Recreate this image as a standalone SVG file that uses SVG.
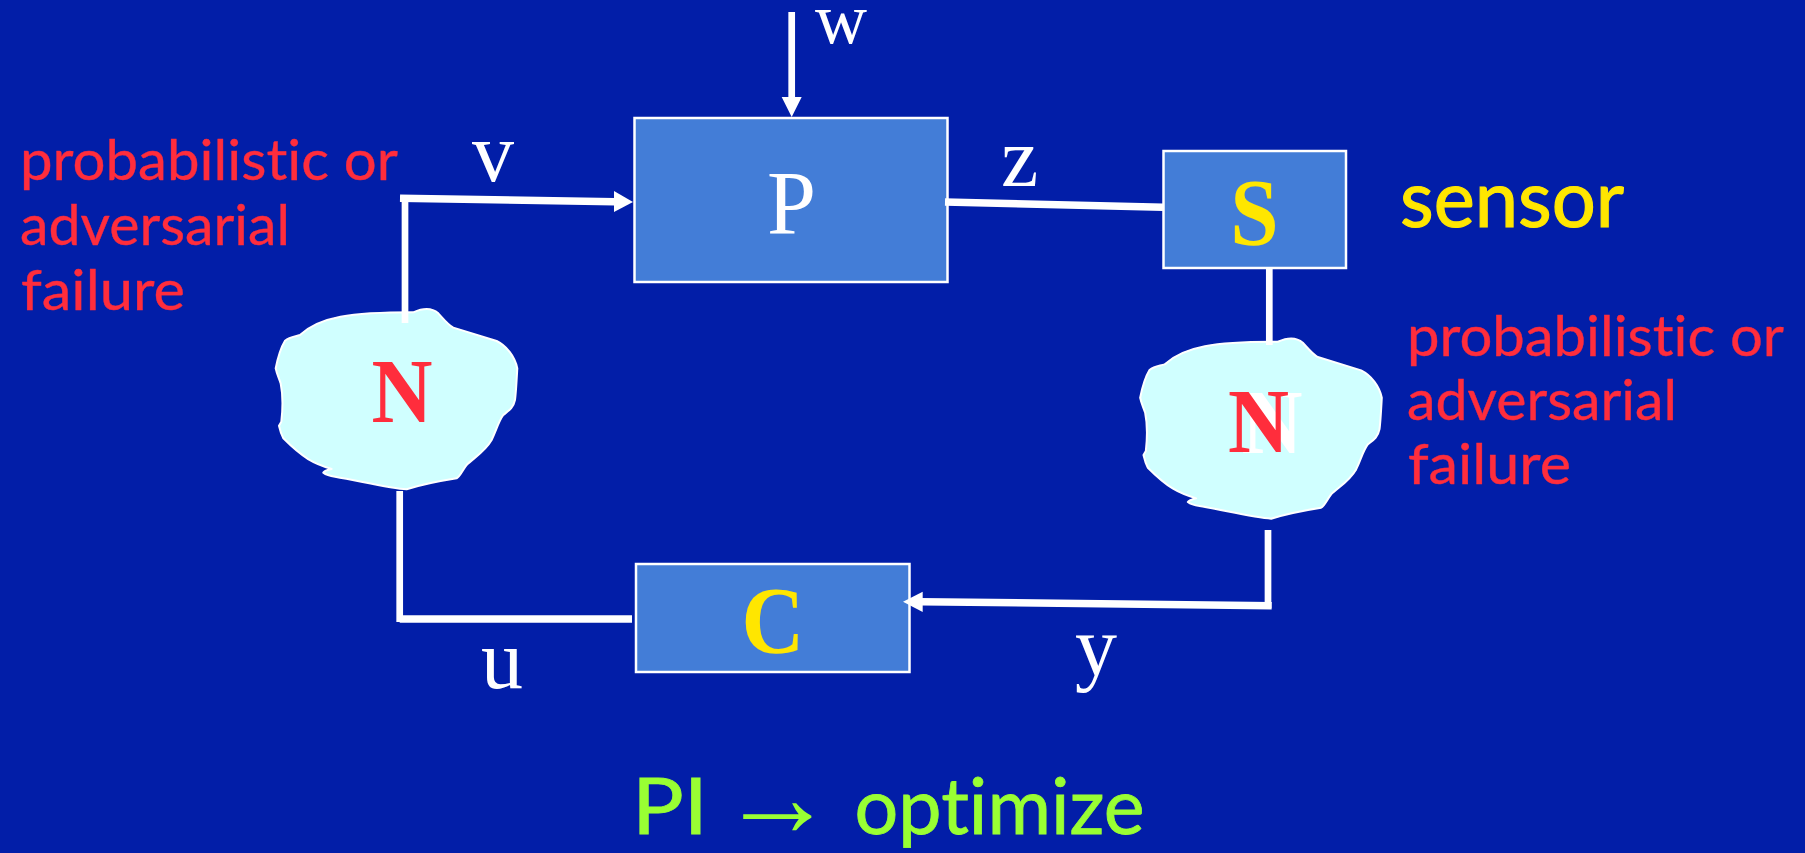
<svg xmlns="http://www.w3.org/2000/svg" width="1805" height="853" viewBox="0 0 1805 853">
<style>
.box{fill:#437dd7;stroke:#fff;stroke-width:2.5}
.cloud{fill:#d0ffff;stroke:#fff;stroke-width:6;stroke-linejoin:round}
.line{fill:none;stroke:#fff;stroke-width:6.7}
.wide{fill:none;stroke:#fff;stroke-width:7.5}
.head{fill:#fff}
.lab{font-family:"Liberation Serif",serif;font-size:84px;fill:#fff}
.big{font-family:"Liberation Serif",serif;font-size:92px;font-weight:bold;text-anchor:middle}
.hand{font-family:Lato,sans-serif;font-size:56px;fill:#ff2d3c;stroke:#ff2d3c;stroke-width:.4;font-variant-ligatures:none}
.sensor{font-size:80px;fill:#ffe600;stroke:#ffe600;stroke-width:1.2}
.goal{font-size:77px;fill:#99ff33;stroke:#99ff33;stroke-width:.8}
</style>
<defs>
<path id="blob" d="M107 265C112 240 118 210 135 182C150 170 165 170 180 165C240 110 330 97 520 97C540 88 570 78 595 100C615 122 625 135 640 143L770 183C800 198 825 230 832 265C830 300 828 340 825 360C820 385 805 393 790 405C775 425 770 450 755 480C735 515 700 535 680 555C665 575 660 590 650 595C600 603 550 612 500 628C450 625 360 603 285 590C270 588 255 582 250 578C255 570 265 570 275 567C220 550 190 535 130 475C122 460 120 450 117 437L124 425C128 390 130 350 122 310C115 290 110 280 107 265Z"/>
</defs>
<rect width="1805" height="853" fill="#021ea8"/>
<g id="node-P">
<rect class="box" x="634.5" y="118" width="313" height="164"/>
<text class="lab" x="791.5" y="233.5" text-anchor="middle" style="font-size:90px" textLength="49" lengthAdjust="spacingAndGlyphs">P</text>
</g>
<g id="node-S">
<rect class="box" x="1163.5" y="151" width="182.5" height="117"/>
<text class="big" x="1254.5" y="245" fill="#ffe600" style="font-size:96px" textLength="48.4" lengthAdjust="spacingAndGlyphs">S</text>
</g>
<g id="node-C">
<rect class="box" x="636" y="564" width="273.5" height="108"/>
<text class="big" x="773" y="653" fill="#ffe600" style="font-size:96px" textLength="62.8" lengthAdjust="spacingAndGlyphs">C</text>
</g>
<g id="node-N1">
<use href="#blob" class="cloud" transform="translate(240 280) scale(.3333)"/>
<text class="big" x="402" y="421.7" fill="#ff2d3c" textLength="61" lengthAdjust="spacingAndGlyphs">N</text>
</g>
<g id="node-N2">
<use href="#blob" class="cloud" transform="translate(1104.5 309.4) scale(.3333)"/>
<text class="big" x="1272" y="452.7" fill="#fff" textLength="61" lengthAdjust="spacingAndGlyphs">N</text>
<text class="big" x="1258.5" y="451.7" fill="#ff2d3c" textLength="61" lengthAdjust="spacingAndGlyphs">N</text>
</g>
<g id="connectors">
<path class="wide" d="M400 198.3L615 201.7"/>
<path class="line" d="M405 198V323"/>
<path class="head" d="M614 191L633 202L614 212Z"/>
<path class="line" d="M791.7 12V98"/>
<path class="head" d="M781.7 97H801.7L791.7 117Z"/>
<path class="wide" d="M945 202L1163 207.3"/>
<path class="line" d="M1269.3 268V345"/>
<path class="line" d="M1268 530V608"/>
<path class="wide" d="M1271.7 605.7L921 601.7"/>
<path class="head" d="M922.7 591.7V612L903 601.7Z"/>
<path class="line" d="M399.7 491V622"/>
<path class="wide" d="M399.7 619H632"/>
</g>
<g id="labels">
<text class="lab" x="815" y="43" style="font-size:72px">w</text>
<text class="lab" x="472" y="181">v</text>
<text class="lab" x="1001" y="186">z</text>
<text class="lab" x="481" y="688">u</text>
<text class="lab" x="1075" y="675">y</text>
<text class="hand" x="20" y="180" textLength="378" lengthAdjust="spacingAndGlyphs">probabilistic or</text>
<text class="hand" x="20" y="245" textLength="270" lengthAdjust="spacingAndGlyphs">adversarial</text>
<text class="hand" x="21" y="310" textLength="164" lengthAdjust="spacingAndGlyphs">failure</text>
<text class="hand" x="1407" y="356" textLength="377" lengthAdjust="spacingAndGlyphs">probabilistic or</text>
<text class="hand" x="1407" y="420" textLength="270" lengthAdjust="spacingAndGlyphs">adversarial</text>
<text class="hand" x="1408" y="484" textLength="163" lengthAdjust="spacingAndGlyphs">failure</text>
<text class="hand sensor" x="1400" y="227" textLength="224" lengthAdjust="spacingAndGlyphs">sensor</text>
<text class="hand goal" y="834"><tspan x="632" textLength="76" lengthAdjust="spacingAndGlyphs">PI</tspan> <tspan x="720" y="836" style="font-family:'Liberation Serif',serif;font-size:115px;stroke:none">→</tspan> <tspan x="854.5" y="834" textLength="290" lengthAdjust="spacingAndGlyphs">optimize</tspan></text>
</g>
</svg>
